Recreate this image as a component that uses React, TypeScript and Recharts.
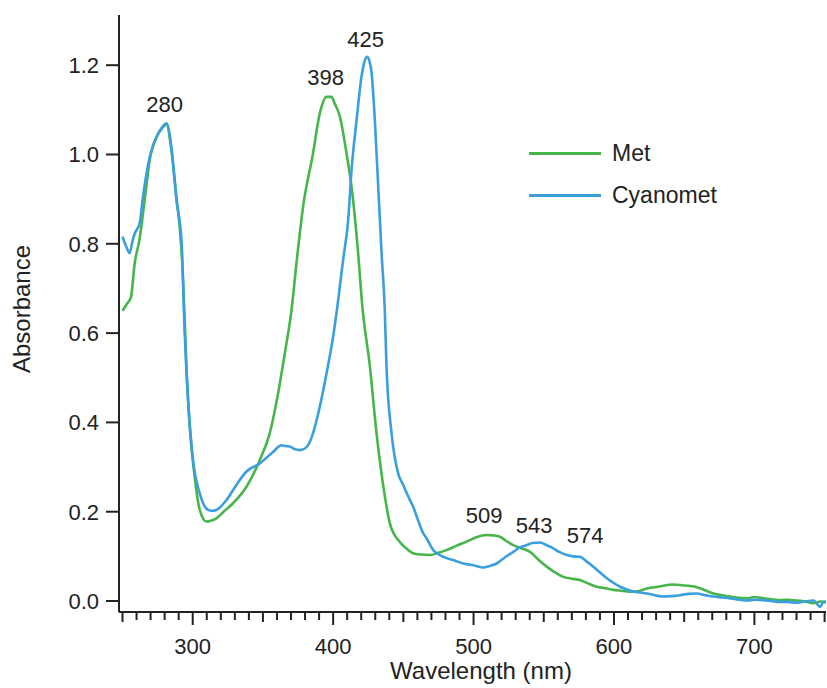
import React from 'react';
import {
  LineChart,
  Line,
  XAxis,
  YAxis,
  Legend,
  ReferenceDot,
} from 'recharts';

// Met spectrum (nm / absorbance)
const metNm = [
  250, 253, 256, 258.7, 262, 265.8, 269.4, 274.3, 278, 281.3, 284.8, 288.4, 290.7, 292.7, 294.3, 295.5,
  297.9, 301.4, 305, 309.8, 313, 316.9, 322, 328.7, 338.3, 347.8, 354.9, 360.8, 365.6, 370.3, 374, 378.6,
  385.7, 390.5, 395.3, 398.8, 401, 404.8, 409.5, 413.1, 417.8, 420.8, 426.2, 430.9, 435.6, 440.4, 447.5,
  452, 457, 463, 469, 475, 480.8, 488, 495, 502, 509.3, 514, 518.8, 523, 528.3, 534, 540.2, 546, 552.1,
  558, 563.9, 570, 575.8, 581, 587.7, 593, 599.6, 605, 611.5, 617, 623.4, 629, 635.2, 641, 647.1, 653,
  659, 665, 670.9, 677, 682.8, 689, 694.7, 700, 706.5, 712, 718.4, 724, 730.3, 736, 742.1, 747, 751,
];
const metAbs = [
  0.65, 0.665, 0.68, 0.757, 0.808, 0.898, 0.988, 1.039, 1.058, 1.068, 1.01, 0.905, 0.838, 0.748, 0.63, 0.525,
  0.39, 0.278, 0.204, 0.178, 0.18, 0.185, 0.2, 0.219, 0.256, 0.316, 0.376, 0.465, 0.555, 0.65, 0.76, 0.883,
  1.003, 1.092, 1.129, 1.129, 1.115, 1.085, 1.003, 0.928, 0.779, 0.66, 0.525, 0.376, 0.26, 0.174, 0.132,
  0.118, 0.107, 0.104, 0.103, 0.108, 0.114, 0.124, 0.133, 0.143, 0.148, 0.147, 0.144, 0.135, 0.125, 0.118, 0.11, 0.093, 0.077,
  0.064, 0.054, 0.05, 0.047, 0.04, 0.032, 0.029, 0.025, 0.023, 0.021, 0.022, 0.028, 0.031, 0.034, 0.037, 0.036, 0.034,
  0.031, 0.024, 0.017, 0.013, 0.01, 0.007, 0.006, 0.009, 0.006, 0.004, 0.002, 0.003, 0.001, -0.001, -0.005, -0.001, -0.002,
];

// Cyanomet spectrum
const cyanoNm = [
  250, 252.5, 255.1, 257, 258.7, 262.2, 264.6, 269.4, 275.3, 278.5, 281.3, 284.8, 288.4, 292, 294.3, 296.7,
  300.2, 305, 310.9, 313.5, 316.9, 324, 331.1, 338.3, 347.8, 357.2, 363.2, 366, 369.1, 372, 376.3, 379,
  382.2, 385.7, 390.5, 395.3, 400, 403.6, 407.1, 410.7, 413.1, 416.7, 420.2, 422.5, 424.2, 425.8, 427.4,
  429.7, 432.1, 434.5, 436.8, 438, 441.6, 446.3, 449.9, 454.7, 457, 460, 464.1, 466.6, 471.3, 476, 480.8,
  487, 492.7, 500, 506.9, 511, 516.5, 522, 528.3, 533, 537.8, 542, 547.3, 552, 556.8, 561, 566.4, 571,
  575.8, 580, 585.3, 590, 594.9, 600, 604.3, 609, 614, 619, 623.4, 629, 635.2, 641, 647.1, 653, 659, 665,
  670.9, 677, 682.8, 689, 694.7, 700, 706.5, 712, 718.4, 724, 730.3, 736, 742.1, 746.9, 749, 751,
];
const cyanoAbs = [
  0.816, 0.795, 0.779, 0.805, 0.823, 0.846, 0.906, 0.995, 1.047, 1.062, 1.07, 1.017, 0.898, 0.808, 0.6, 0.45,
  0.316, 0.241, 0.204, 0.202, 0.204, 0.226, 0.26, 0.29, 0.308, 0.334, 0.349, 0.347, 0.346, 0.341, 0.338, 0.34,
  0.349, 0.376, 0.435, 0.51, 0.592, 0.674, 0.764, 0.853, 0.965, 1.077, 1.174, 1.21, 1.219, 1.21, 1.182,
  1.077, 0.928, 0.779, 0.65, 0.525, 0.376, 0.286, 0.26, 0.226, 0.211, 0.185, 0.152, 0.14, 0.114, 0.103, 0.096,
  0.09, 0.084, 0.08, 0.075, 0.078, 0.084, 0.097, 0.11, 0.12, 0.125, 0.13, 0.131, 0.125, 0.118, 0.11, 0.103, 0.1,
  0.099, 0.09, 0.077, 0.064, 0.051, 0.04, 0.032, 0.026, 0.021, 0.019, 0.017, 0.013, 0.01, 0.011, 0.013, 0.016, 0.017, 0.013,
  0.01, 0.008, 0.006, 0.003, 0.001, 0.003, 0.002, 0.0, -0.002, -0.002, -0.004, -0.001, 0.001, -0.013, -0.003, -0.002,
];

// peak annotations: text, label centre (nm), label baseline (absorbance units)
const peakText = ['280', '398', '425', '509', '543', '574'];
const peakX = [280.0, 394.7, 423.2, 507.6, 543.2, 579.4];
const peakY = [1.095, 1.156, 1.2415, 0.1754, 0.1516, 0.1292];

const yTicks = [0, 0.2, 0.4, 0.6, 0.8, 1.0, 1.2];
const xMajor = [300, 400, 500, 600, 700];
const xTicks: number[] = [];
for (let v = 250; v <= 750; v += 10) xTicks.push(v);

const GREEN = '#46b54a';
const BLUE = '#3a9fdc';
const INK = '#222';
const FONT = '"Liberation Sans", Arial, sans-serif';

const metData = metNm.map((nm, i) => ({ nm, abs: metAbs[i] }));
const cyanoData = cyanoNm.map((nm, i) => ({ nm, abs: cyanoAbs[i] }));

const XTick = ({ x, y, payload }: any) => {
  const v = payload.value;
  const major = xMajor.includes(v);
  const len = major ? 13 : v % 50 === 0 ? 10 : 8;
  return (
    <g>
      <line x1={x} x2={x} y1={y} y2={y + len} stroke={INK} strokeWidth={2} />
      {major && (
        <text x={x} y={y + 42} textAnchor="middle" fontSize={22} fill={INK} fontFamily={FONT}>
          {v}
        </text>
      )}
    </g>
  );
};

const PeakLabel = ({ viewBox, value }: any) => (
  <text x={viewBox.cx ?? viewBox.x} y={viewBox.cy ?? viewBox.y} textAnchor="middle" fontSize={22} fill={INK} fontFamily={FONT}>
    {value}
  </text>
);

const LegendBox = () => (
  <div style={{ fontFamily: FONT, fontSize: 23, color: INK }}>
    {[
      { name: 'Met', color: GREEN },
      { name: 'Cyanomet', color: BLUE },
    ].map((s) => (
      <div key={s.name} style={{ display: 'flex', alignItems: 'center', height: 42 }}>
        <div style={{ width: 72, height: 3, background: s.color, marginRight: 11 }} />
        <span>{s.name}</span>
      </div>
    ))}
  </div>
);

export default function App() {
  return (
    <div style={{ position: 'absolute', left: 0, top: 0, width: 827, height: 688, background: '#fff' }}>
      <LineChart width={827} height={688} margin={{ top: 15, right: 1, left: 0, bottom: 0 }}>
        <XAxis
          dataKey="nm"
          type="number"
          domain={[247.5, 751]}
          allowDataOverflow
          ticks={xTicks}
          interval={0}
          tickSize={0}
          tickMargin={0}
          tickLine={false}
          tick={<XTick />}
          height={76}
          axisLine={{ stroke: INK, strokeWidth: 2 }}
          label={{
            value: 'Wavelength (nm)',
            content: () => (
              <text x={481} y={679} textAnchor="middle" fontSize={24} fill={INK} fontFamily={FONT}>
                Wavelength (nm)
              </text>
            ),
          }}
        />
        <YAxis
          type="number"
          domain={[-0.0246, 1.3124]}
          allowDataOverflow
          ticks={yTicks}
          interval={0}
          width={119}
          tickSize={13}
          tickMargin={7}
          tickFormatter={(v: number) => v.toFixed(1)}
          tick={{ fontSize: 22, fill: INK, fontFamily: FONT }}
          tickLine={{ stroke: INK, strokeWidth: 2 }}
          axisLine={{ stroke: INK, strokeWidth: 2 }}
          label={{
            value: 'Absorbance',
            content: () => (
              <text
                x={30}
                y={309}
                transform="rotate(-90, 30, 309)"
                textAnchor="middle"
                fontSize={24}
                fill={INK}
                fontFamily={FONT}
              >
                Absorbance
              </text>
            ),
          }}
        />
        <Legend
          layout="horizontal"
          verticalAlign="middle"
          content={<LegendBox />}
          wrapperStyle={{ position: 'absolute', left: 529, top: 132, width: 220 }}
        />
        <Line
          data={metData}
          dataKey="abs"
          name="Met"
          type="monotone"
          stroke={GREEN}
          strokeWidth={2.6}
          dot={false}
          activeDot={false}
          isAnimationActive={false}
        />
        <Line
          data={cyanoData}
          dataKey="abs"
          name="Cyanomet"
          type="monotone"
          stroke={BLUE}
          strokeWidth={2.6}
          dot={false}
          activeDot={false}
          isAnimationActive={false}
        />
        {peakText.map((t, i) => (
          <ReferenceDot
            key={t}
            x={peakX[i]}
            y={peakY[i]}
            r={0}
            fill="none"
            stroke="none"
            label={<PeakLabel value={t} />}
          />
        ))}
      </LineChart>
    </div>
  );
}
